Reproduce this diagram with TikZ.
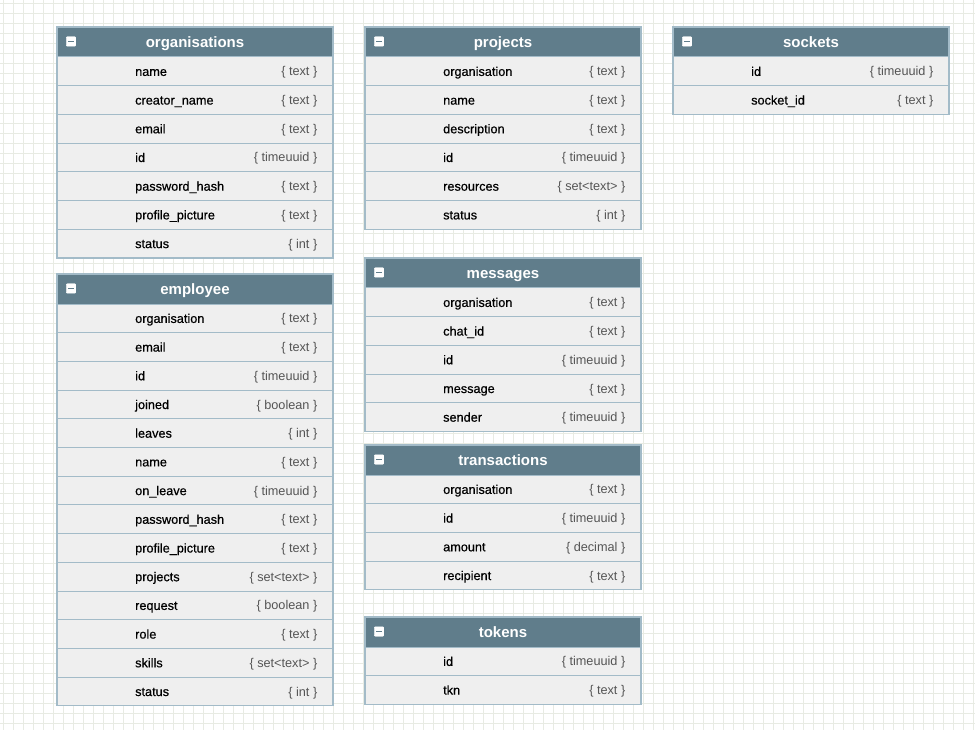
\documentclass[tikz,border=0pt]{standalone}
\usepackage{fontspec}
\setmainfont{Liberation Sans}
\newfontface\namefont{Liberation Sans}[FakeBold=0.5]
\definecolor{gridc}{RGB}{232,235,227}
\definecolor{hdrc}{HTML}{607D8B}
\definecolor{rowc}{HTML}{EFEFEF}
\definecolor{linec}{HTML}{A3BBC8}
\definecolor{typec}{HTML}{555555}
\tikzset{
  hdr/.style={fill=hdrc, minimum width=276pt, minimum height=30pt, inner sep=0pt, outer sep=0pt, anchor=north west},
  htitle/.style={text=white, font=\fontsize{15}{17}\selectfont\bfseries, inner sep=0pt, text height=10.8pt, text depth=3.2pt},
  rowbox/.style={fill=rowc, minimum width=276pt, minimum height=28.7pt, inner sep=0pt, outer sep=0pt, anchor=north west},
  sepline/.style={draw=linec, line width=1pt},
  fname/.style={text=black, font=\fontsize{12.7}{14}\selectfont\namefont, inner sep=0pt, anchor=west, text height=9.2pt, text depth=2.7pt},
  ftype/.style={text=typec, font=\fontsize{12.7}{14}\selectfont, inner sep=0pt, anchor=east, text height=9.2pt, text depth=2.7pt},
  iconbox/.style={draw=white, fill=white, rounded corners=1pt, minimum width=9.5pt, minimum height=9.5pt, inner sep=0pt},
  outerbox/.style={draw=linec, line width=1.3pt}
}
\newcommand\ertable[5]{%
  \node[hdr] (#1) at (#2,#3) {};
  \node[htitle] (#1-title) at ([yshift=-1.5pt]#1.center) {#4};
  \node[iconbox] (#1-icon) at ([xshift=14pt,yshift=0.5pt]#1.west) {};
  \draw[hdrc, line width=1.2pt] ([xshift=-2.6pt]#1-icon.center) -- ([xshift=2.6pt]#1-icon.center);
  \foreach [count=\k] \n/\t in {#5} {
    \node[rowbox] (#1-\k) at ({#2},{#3+30+28.7*(\k-1)}) {};
    \draw[sepline] (#1-\k.north west) -- (#1-\k.north east);
    \node[fname] (#1-\k-n) at ([xshift=78pt,yshift=-1.3pt]#1-\k.west) {\n};
    \node[ftype] (#1-\k-t) at ([xshift=-15.5pt,yshift=-1.3pt]#1-\k.east) {\t};
  }
}
\begin{document}
\begin{tikzpicture}[x=1pt,y=-1pt]
\useasboundingbox (0,0) rectangle (975,730);
\fill[white] (0,0) rectangle (975,730);
\foreach \i in {0,...,97} \draw[gridc, line width=1pt] ({3.5+10*\i},0) -- ({3.5+10*\i},730);
\foreach \j in {0,...,72} \draw[gridc, line width=1pt] (0,{3.5+10*\j}) -- (975,{3.5+10*\j});

\ertable{org}{57}{27}{organisations}{name/\{ text \}, creator\_name/\{ text \}, email/\{ text \}, id/\{ timeuuid \}, password\_hash/\{ text \}, profile\_picture/\{ text \}, status/\{ int \}}
\draw[outerbox] (org.north west) rectangle (org-7.south east);

\ertable{emp}{57}{274}{employee}{organisation/\{ text \}, email/\{ text \}, id/\{ timeuuid \}, joined/\{ boolean \}, leaves/\{ int \}, name/\{ text \}, on\_leave/\{ timeuuid \}, password\_hash/\{ text \}, profile\_picture/\{ text \}, projects/\{ set<text> \}, request/\{ boolean \}, role/\{ text \}, skills/\{ set<text> \}, status/\{ int \}}
\draw[outerbox] (emp.north west) rectangle (emp-14.south east);

\ertable{prj}{365}{27}{projects}{organisation/\{ text \}, name/\{ text \}, description/\{ text \}, id/\{ timeuuid \}, resources/\{ set<text> \}, status/\{ int \}}
\draw[outerbox] (prj.north west) rectangle (prj-6.south east);

\ertable{msg}{365}{258}{messages}{organisation/\{ text \}, chat\_id/\{ text \}, id/\{ timeuuid \}, message/\{ text \}, sender/\{ timeuuid \}}
\draw[outerbox] (msg.north west) rectangle (msg-5.south east);

\ertable{trn}{365}{445}{transactions}{organisation/\{ text \}, id/\{ timeuuid \}, amount/\{ decimal \}, recipient/\{ text \}}
\draw[outerbox] (trn.north west) rectangle (trn-4.south east);

\ertable{tok}{365}{617}{tokens}{id/\{ timeuuid \}, tkn/\{ text \}}
\draw[outerbox] (tok.north west) rectangle (tok-2.south east);

\ertable{sck}{673}{27}{sockets}{id/\{ timeuuid \}, socket\_id/\{ text \}}
\draw[outerbox] (sck.north west) rectangle (sck-2.south east);
\end{tikzpicture}
\end{document}
